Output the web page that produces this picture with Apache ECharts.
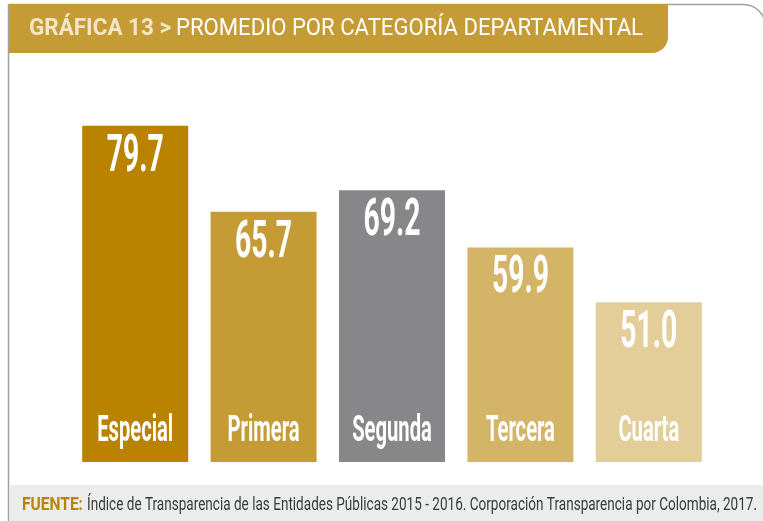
<!DOCTYPE html>
<html>
<head>
<meta charset="utf-8">
<script src="https://cdn.jsdelivr.net/npm/echarts@6/dist/echarts.min.js"></script>
<style>
  html, body { margin: 0; padding: 0; background: #fff; }
  #main { width: 763px; height: 521px; }
</style>
</head>
<body>
<div id="main"></div>
<script>
var chartDom = document.getElementById('main');
var myChart = echarts.init(chartDom);
var option;

// data
var categories = ['Especial', 'Primera', 'Segunda', 'Tercera', 'Cuarta'];
var values = [79.7, 65.7, 69.2, 59.9, 51.0];
var barColors = ['#B98300', '#C49B35', '#87878A', '#D4B466', '#E3CD99'];

var FONT = 'Roboto';
var AXIS_MIN = 25;

// the original uses a very condensed face, so squeeze the text horizontally
var measureCtx = document.createElement('canvas').getContext('2d');
function textWidth(text, size, weight) {
  measureCtx.font = (weight || 'normal') + ' ' + size + 'px ' + FONT;
  return measureCtx.measureText(text).width;
}
function squeeze(text, size, weight, target) {
  return target / textWidth(text, size, weight);
}

var valueSize = 52;
var valueScale = squeeze('79.7', valueSize, 'bold', 57);
var nameSize = 37;
var nameScale = squeeze('Especial', nameSize, 'bold', 76);

var titleBold = 'GRÁFICA 13 >';
var titleRest = 'PROMEDIO POR CATEGORÍA DEPARTAMENTAL';
var sourceBold = 'FUENTE:';
var sourceRest = 'Índice de Transparencia de las Entidades Públicas 2015 - 2016. Corporación Transparencia por Colombia, 2017.';

function headText(x, y, text, size, weight, color, target) {
  return {
    type: 'text',
    x: x,
    y: y,
    scaleX: squeeze(text, size, weight, target),
    style: {
      text: text,
      fontFamily: FONT,
      fontWeight: weight,
      fontSize: size,
      fill: color,
      verticalAlign: 'middle'
    }
  };
}

option = {
  animation: false,
  grid: {
    left: 71,
    right: 50,
    top: 1,
    bottom: 59
  },
  xAxis: {
    type: 'category',
    data: categories,
    show: false
  },
  yAxis: {
    type: 'value',
    min: AXIS_MIN,
    max: 100,
    show: false
  },
  graphic: [
    {
      type: 'rect',
      shape: { x: 8.5, y: 4.5, width: 757, height: 700, r: [0, 22, 0, 0] },
      style: { fill: 'none', stroke: '#a0a0a0', lineWidth: 1.5 },
      z: -1
    },
    {
      type: 'rect',
      shape: { x: 9, y: 4, width: 659, height: 49, r: [0, 0, 16, 0] },
      style: { fill: '#C49B35' }
    },
    headText(29, 29, titleBold, 24, 'bold', '#F2E6C6', 142),
    headText(176, 29, titleRest, 24, 'normal', '#ffffff', 467),
    {
      type: 'rect',
      shape: { x: 9.25, y: 485, width: 760, height: 40 },
      style: { fill: '#EBECEC' }
    },
    headText(22, 505, sourceBold, 19, 'bold', '#B98300', 61),
    headText(87, 505, sourceRest, 19, 'normal', '#3a3a3a', 670)
  ],
  series: [
    {
      type: 'bar',
      barWidth: 106,
      data: values.map(function (v, i) {
        return { value: v, itemStyle: { color: barColors[i] } };
      })
    },
    {
      type: 'custom',
      data: values.map(function (v, i) { return [i, v]; }),
      encode: { x: 0, y: 1 },
      z: 5,
      renderItem: function (params, api) {
        var top = api.coord([api.value(0), api.value(1)]);
        var bottom = api.coord([api.value(0), AXIS_MIN]);
        return {
          type: 'group',
          children: [
            {
              type: 'text',
              x: top[0],
              y: top[1] + 32,
              scaleX: valueScale,
              style: {
                text: api.value(1).toFixed(1),
                fontFamily: FONT,
                fontWeight: 'bold',
                fontSize: valueSize,
                fill: '#fff',
                align: 'center',
                verticalAlign: 'middle'
              }
            },
            {
              type: 'text',
              x: bottom[0],
              y: bottom[1] - 30,
              scaleX: nameScale,
              style: {
                text: categories[params.dataIndex],
                fontFamily: FONT,
                fontWeight: 'bold',
                fontSize: nameSize,
                fill: '#fff',
                align: 'center',
                verticalAlign: 'middle'
              }
            }
          ]
        };
      }
    }
  ]
};

option && myChart.setOption(option);
</script>
</body>
</html>
